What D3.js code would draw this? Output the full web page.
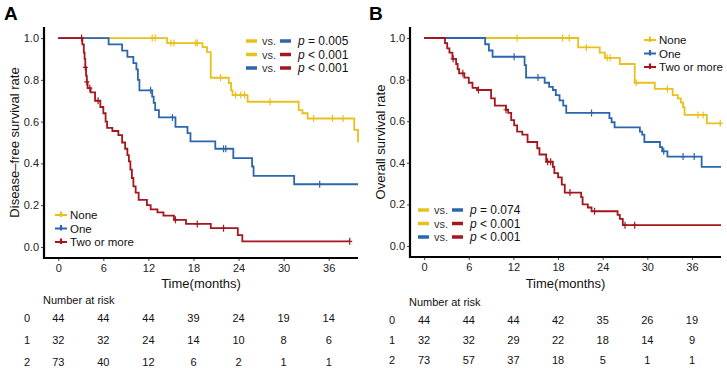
<!DOCTYPE html>
<html>
<head>
<meta charset="utf-8">
<script src="https://cdn.jsdelivr.net/npm/d3@7"></script>
<style>
  body { margin: 0; background: #fff; }
  svg { display: block; font-family: "Liberation Sans", Arial, sans-serif; }
</style>
</head>
<body>
<div id="chart"></div>
<script>
// ticks and labels
var timeTicks = [0, 6, 12, 18, 24, 30, 36];
var survTicks = [0, 0.2, 0.4, 0.6, 0.8, 1.0];
var groupNames = ["None", "One", "Two or more"];
var groupColors = ["#E9C01C", "#2C66AD", "#A3171D"];
var riskRows = ["0", "1", "2"];

// panel A, disease-free survival (step times, survival after step, censor times)
var dfsNoneTime = [0, 14.5, 19.2, 19.8, 20.3, 22.7, 23.0, 23.2, 25.2, 32.0, 32.5, 33.2, 39.4, 39.9];
var dfsNoneSurv = [1, 0.976, 0.957, 0.933, 0.81, 0.785, 0.75, 0.727, 0.695, 0.655, 0.64, 0.615, 0.56, 0.50];
var dfsNoneCens = [12.5, 12.9, 15.0, 15.4, 18.3, 18.5, 21.6, 23.6, 24.3, 24.8, 28.2, 34.0, 36.5, 37.9];

var dfsOneTime = [0, 6.7, 8.5, 9.2, 10.0, 10.4, 10.6, 10.8, 12.5, 12.7, 12.9, 13.4, 15.6, 17.2, 17.6, 20.9, 23.3, 25.8, 26.0, 31.4, 39.9];
var dfsOneSurv = [1, 0.97, 0.94, 0.91, 0.88, 0.85, 0.80, 0.75, 0.72, 0.69, 0.655, 0.62, 0.575, 0.545, 0.505, 0.47, 0.425, 0.385, 0.34, 0.30, 0.30];
var dfsOneCens = [12.3, 15.2, 22.0, 22.3, 34.8];

var dfsTwoTime = [0, 3.2, 3.4, 3.5, 3.6, 3.7, 3.8, 3.9, 4.3, 4.9, 5.6, 6.0, 6.3, 6.5, 7.2, 8.0, 8.5, 8.9, 9.2, 9.4, 9.6, 9.8, 10.0, 10.3, 10.7, 11.8, 12.3, 13.2, 14.0, 15.4, 17.0, 20.3, 23.9, 24.5, 38.8];
var dfsTwoSurv = [1, 0.97, 0.93, 0.90, 0.86, 0.82, 0.79, 0.76, 0.74, 0.70, 0.67, 0.64, 0.60, 0.57, 0.555, 0.535, 0.50, 0.47, 0.44, 0.41, 0.37, 0.33, 0.29, 0.26, 0.225, 0.20, 0.18, 0.165, 0.15, 0.13, 0.11, 0.09, 0.057, 0.027, 0.027];
var dfsTwoCens = [3.1, 3.6, 3.8, 4.2, 5.3, 15.6, 18.5, 22.0, 38.8];

// panel B, overall survival
var osNoneTime = [0, 20.7, 23.6, 24.3, 26.3, 28.3, 31.0, 33.4, 34.1, 34.5, 34.8, 35.0, 38.0, 39.9];
var osNoneSurv = [1, 0.955, 0.93, 0.905, 0.875, 0.785, 0.755, 0.725, 0.71, 0.69, 0.667, 0.63, 0.59, 0.59];
var osNoneCens = [12.5, 18.6, 19.5, 21.8, 24.6, 25.0, 28.5, 32.7, 36.8, 37.5, 39.8];

var osOneTime = [0, 8.2, 8.7, 9.2, 13.5, 13.7, 16.2, 16.8, 17.3, 17.7, 18.2, 18.7, 19.1, 24.9, 25.2, 25.6, 29.0, 29.3, 29.6, 31.7, 32.0, 32.7, 37.3, 39.9];
var osOneSurv = [1, 0.97, 0.94, 0.91, 0.87, 0.81, 0.785, 0.765, 0.75, 0.725, 0.70, 0.675, 0.64, 0.615, 0.595, 0.57, 0.55, 0.535, 0.50, 0.475, 0.455, 0.43, 0.38, 0.38];
var osOneCens = [12.1, 15.3, 22.5, 32.2, 34.8, 36.3];

var osTwoTime = [0, 2.8, 3.1, 3.4, 3.8, 4.3, 4.5, 4.7, 5.4, 6.0, 6.5, 7.1, 9.0, 9.5, 11.0, 11.3, 11.7, 12.1, 12.5, 13.2, 13.9, 15.2, 15.5, 16.4, 17.3, 17.5, 18.0, 18.5, 18.9, 21.1, 21.3, 22.0, 22.5, 26.0, 26.3, 26.7, 39.9];
var osTwoSurv = [1, 0.975, 0.95, 0.93, 0.90, 0.875, 0.85, 0.83, 0.81, 0.785, 0.76, 0.75, 0.71, 0.675, 0.655, 0.64, 0.605, 0.58, 0.55, 0.535, 0.50, 0.47, 0.44, 0.405, 0.38, 0.35, 0.33, 0.295, 0.257, 0.235, 0.20, 0.185, 0.167, 0.15, 0.13, 0.10, 0.10];
var osTwoCens = [3.9, 5.2, 7.3, 11.0, 16.6, 17.0, 19.6, 22.9, 27.0, 28.3];

// number at risk
var dfsRisk = [[44, 44, 44, 39, 24, 19, 14], [32, 32, 24, 14, 10, 8, 6], [73, 40, 12, 6, 2, 1, 1]];
var osRisk = [[44, 44, 44, 42, 35, 26, 19], [32, 32, 29, 22, 18, 14, 9], [73, 57, 37, 18, 5, 1, 1]];

// p-values of the pairwise tests: [group a, group b, text]
var dfsPairs = [[0, 1, " = 0.005"], [0, 2, " < 0.001"], [1, 2, " < 0.001"]];
var osPairs = [[0, 1, " = 0.074"], [0, 2, " < 0.001"], [1, 2, " < 0.001"]];

var svg = d3.select("#chart").append("svg")
  .attr("width", 727)
  .attr("height", 368);

function survAt(times, surv, t) {
  var i = d3.bisectRight(times, t) - 1;
  return surv[Math.max(i, 0)];
}

function drawPanel(p) {
  var x = d3.scaleLinear().domain([-1.9, 39.9]).range([p.left, p.right]);
  var y = d3.scaleLinear().domain([-0.053, 1.053]).range([p.bottom, p.top]);
  var g = svg.append("g");

  // panel letter
  g.append("text")
    .attr("x", p.letterX).attr("y", 20)
    .attr("font-size", 19).attr("font-weight", "bold")
    .text(p.letter);

  // axes
  var xAxis = g.append("g")
    .attr("transform", "translate(0," + p.bottom + ")")
    .call(d3.axisBottom(x).tickValues(timeTicks).tickSize(3).tickPadding(3));
  var yAxis = g.append("g")
    .attr("transform", "translate(" + p.left + ",0)")
    .call(d3.axisLeft(y).tickValues(survTicks).tickSize(3).tickPadding(2).tickFormat(d3.format(".1f")));
  [xAxis, yAxis].forEach(function(a) {
    a.select(".domain").remove();
    a.selectAll(".tick line").attr("stroke", "#444");
    a.selectAll(".tick text").attr("font-size", 11).attr("fill", "#222")
      .attr("font-family", "Liberation Sans, Arial, sans-serif");
  });
  g.append("path")
    .attr("d", "M" + p.left + "," + p.top + "V" + p.bottom + "H" + p.right)
    .attr("fill", "none").attr("stroke", "#000").attr("stroke-width", 2.2);

  // axis titles
  g.append("text")
    .attr("transform", "translate(" + p.ylabX + "," + ((p.top + p.bottom) / 2) + ") rotate(-90)")
    .attr("text-anchor", "middle").attr("font-size", 13).attr("fill", "#111")
    .text(p.ylab);
  g.append("text")
    .attr("x", (p.left + p.right) / 2).attr("y", 288)
    .attr("text-anchor", "middle").attr("font-size", 13).attr("fill", "#111")
    .text("Time(months)");

  var line = d3.line()
    .x(function(d) { return x(d[0]); })
    .y(function(d) { return y(d[1]); })
    .curve(d3.curveStepAfter);

  // curves, drawn none first so that red ends on top
  p.curves.forEach(function(c, k) {
    var pts = c.time.map(function(t, i) { return [t, c.surv[i]]; });
    g.append("path")
      .datum(pts)
      .attr("fill", "none")
      .attr("stroke", groupColors[k])
      .attr("stroke-width", 1.8)
      .attr("d", line);
    g.selectAll(null)
      .data(c.cens)
      .enter().append("path")
      .attr("d", function(t) {
        var cx = x(t), cy = y(survAt(c.time, c.surv, t));
        return "M" + cx + "," + (cy - 3.5) + "V" + (cy + 3.5) + "M" + (cx - 2.5) + "," + cy + "H" + (cx + 2.5);
      })
      .attr("stroke", groupColors[k])
      .attr("stroke-width", 1.2);
  });

  // group legend
  groupNames.forEach(function(name, k) {
    var ly = p.groupLeg.y + k * 13.5, lx = p.groupLeg.x;
    g.append("path")
      .attr("d", "M" + lx + "," + ly + "H" + (lx + 12) + "M" + (lx + 6) + "," + (ly - 3.5) + "V" + (ly + 2))
      .attr("stroke", groupColors[k]).attr("stroke-width", 2.2);
    g.append("text")
      .attr("x", lx + 15).attr("y", ly + 4)
      .attr("font-size", 11.5).attr("fill", "#111")
      .text(name);
  });

  // p-value legend
  p.pairs.forEach(function(pr, k) {
    var ly = p.pLeg.y + k * 13.5, lx = p.pLeg.x;
    g.append("line")
      .attr("x1", lx).attr("x2", lx + 11).attr("y1", ly).attr("y2", ly)
      .attr("stroke", groupColors[pr[0]]).attr("stroke-width", 3.5);
    g.append("text")
      .attr("x", lx + 16).attr("y", ly + 4)
      .attr("font-size", 11).attr("fill", "#333")
      .text("vs.");
    g.append("line")
      .attr("x1", lx + 34).attr("x2", lx + 45).attr("y1", ly).attr("y2", ly)
      .attr("stroke", groupColors[pr[1]]).attr("stroke-width", 3.5);
    var t = g.append("text")
      .attr("x", lx + 52).attr("y", ly + 4)
      .attr("font-size", 12).attr("fill", "#111");
    t.append("tspan").attr("font-style", "italic").text("p");
    t.append("tspan").text(pr[2]);
  });

  // number at risk table
  g.append("text")
    .attr("x", p.left - 1).attr("y", p.riskTitleY)
    .attr("font-size", 11).attr("fill", "#111")
    .text("Number at risk");
  p.risk.forEach(function(row, r) {
    var ry = p.riskY[r];
    g.append("text")
      .attr("x", p.rowLabX).attr("y", ry)
      .attr("text-anchor", "middle").attr("font-size", 11).attr("fill", "#111")
      .text(riskRows[r]);
    g.selectAll(null)
      .data(row)
      .enter().append("text")
      .attr("x", function(d, i) { return x(timeTicks[i]); })
      .attr("y", ry)
      .attr("text-anchor", "middle").attr("font-size", 11).attr("fill", "#111")
      .text(function(d) { return d; });
  });
}

drawPanel({
  letter: "A", letterX: 4,
  left: 44, right: 358, top: 27, bottom: 258,
  ylab: "Disease\u2013free survival rate", ylabX: 19,
  curves: [
    { time: dfsNoneTime, surv: dfsNoneSurv, cens: dfsNoneCens },
    { time: dfsOneTime, surv: dfsOneSurv, cens: dfsOneCens },
    { time: dfsTwoTime, surv: dfsTwoSurv, cens: dfsTwoCens }
  ],
  groupLeg: { x: 55, y: 215 },
  pairs: dfsPairs, pLeg: { x: 246, y: 41 },
  risk: dfsRisk, riskTitleY: 304, riskY: [322, 344, 366], rowLabX: 27
});

drawPanel({
  letter: "B", letterX: 369,
  left: 410, right: 721, top: 27, bottom: 257,
  ylab: "Overall survival rate", ylabX: 385,
  curves: [
    { time: osNoneTime, surv: osNoneSurv, cens: osNoneCens },
    { time: osOneTime, surv: osOneSurv, cens: osOneCens },
    { time: osTwoTime, surv: osTwoSurv, cens: osTwoCens }
  ],
  groupLeg: { x: 644, y: 40 },
  pairs: osPairs, pLeg: { x: 418, y: 210 },
  risk: osRisk, riskTitleY: 306, riskY: [324, 344, 364], rowLabX: 392
});
</script>
</body>
</html>
